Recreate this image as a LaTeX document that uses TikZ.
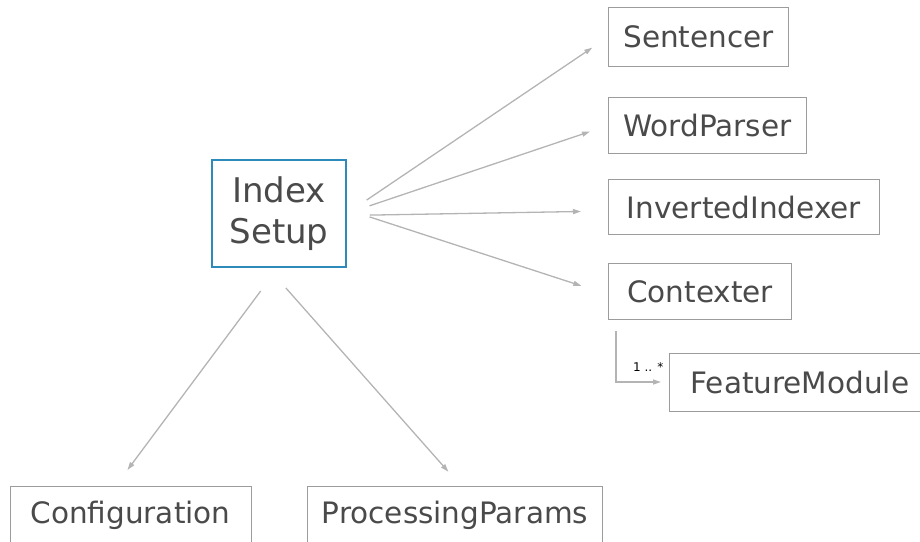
\documentclass[tikz,border=0pt]{standalone}
\usepackage{fontspec}
\setmainfont{DejaVu Sans}
\usetikzlibrary{arrows.meta,positioning}
\definecolor{textgray}{HTML}{4A4A4A}
\definecolor{boxgray}{HTML}{9C9C9C}
\definecolor{linkgray}{HTML}{B4B4B4}
\definecolor{hubblue}{HTML}{2E8AB8}
\tikzset{
  box/.style={draw=boxgray, line width=1pt, minimum height=56pt, inner xsep=14pt, text=textgray, font=\fontsize{29.5}{35}\selectfont},
  hub/.style={draw=hubblue, line width=1.5pt, minimum width=134pt, minimum height=107pt, align=center, text=textgray, font=\fontsize{34}{41}\selectfont},
  link/.style={-{Triangle[length=8pt,width=5pt]}, draw=linkgray, line width=1.3pt},
  mult/.style={font=\fontsize{12}{14}\selectfont, text=black, inner sep=1pt}
}

\begin{document}
\begin{tikzpicture}[x=1pt, y=-1pt]
  \useasboundingbox (0,0) rectangle (920,541);

  \node[hub] (setup) at (279,213.5) {Index\\Setup};

  \node[box, anchor=north west, minimum height=59pt, minimum width=180pt] (sent) at (608,7) {Sentencer};
  \node[box, below right=30pt and 0pt of sent.south west, minimum width=198pt] (word) {WordParser};
  \node[box, below right=25pt and 0pt of word.south west, minimum height=55pt, minimum width=271pt] (inv) {InvertedIndexer};
  \node[box, below right=28pt and 0pt of inv.south west, minimum width=183pt] (ctx) {Contexter};
  \node[box, anchor=west, minimum height=58pt, inner xsep=21pt] (feat) at (669,382) {FeatureModule};

  \node[box, anchor=north west, minimum width=241pt, minimum height=58pt] (conf) at (9.5,486) {Configuration};
  \node[box, anchor=north west, minimum width=295pt, minimum height=58pt] (proc) at (307,486) {ProcessingParams};

  \draw[link, shorten <=24pt, shorten >=19pt] (setup.east) -- (sent.west);
  \draw[link, shorten <=24pt, shorten >=19pt] (setup.east) -- (word.west);
  \draw[link, shorten <=23pt, shorten >=27pt] ([yshift=-2pt]setup.east) -- ([yshift=-4pt]inv.west);
  \draw[link, shorten <=24pt, shorten >=28pt] ([yshift=4pt]setup.east) -- ([yshift=-3pt]ctx.west);

  \draw[link, shorten <=29pt, shorten >=20pt] ([xshift=-1pt]setup.south) -- ([xshift=-15pt]conf.north);
  \draw[link, shorten <=27pt, shorten >=19pt] ([xshift=-11pt]setup.south) -- ([xshift=6pt]proc.north);

  \draw[link, shorten <=11pt, shorten >=8pt] ([xshift=8pt]ctx.south west) |- (feat.west)
    node[mult, pos=1, anchor=south east, xshift=-4pt, yshift=9pt] {1 .. *};
\end{tikzpicture}
\end{document}
